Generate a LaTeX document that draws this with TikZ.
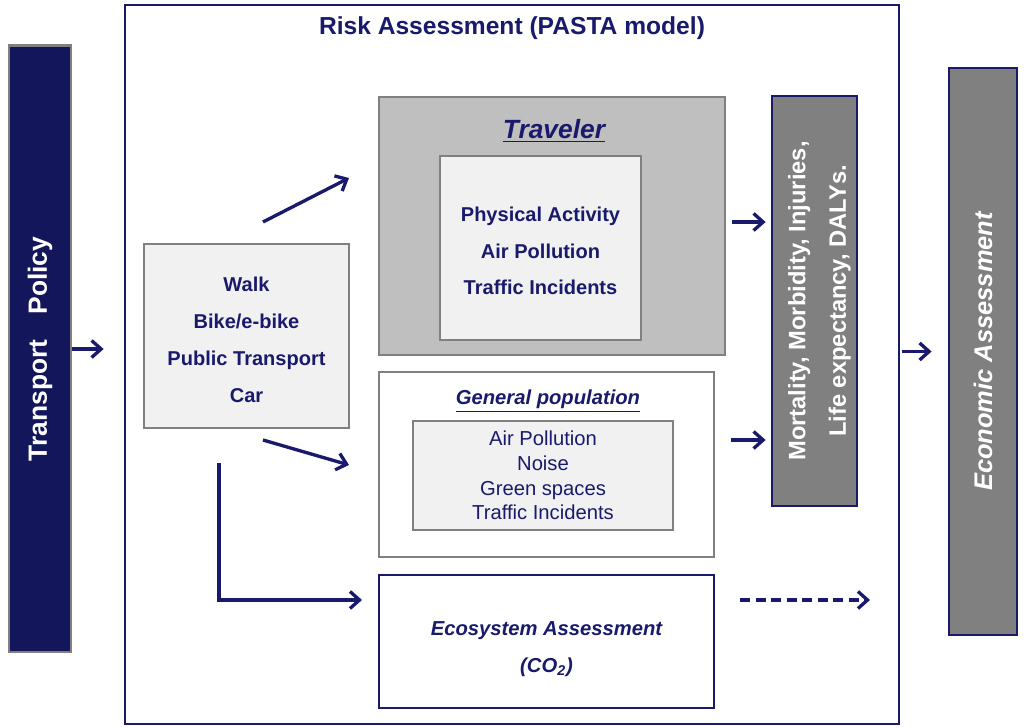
\documentclass[tikz,border=0pt]{standalone}
\usepackage{fontspec}
\setmainfont{Liberation Sans}
\usetikzlibrary{arrows.meta,positioning,calc}

\definecolor{navy}{HTML}{1A1A6C}
\definecolor{deepnavy}{HTML}{13165A}
\definecolor{midgray}{HTML}{808080}
\definecolor{shadegray}{HTML}{BFBFBF}
\definecolor{palegray}{HTML}{F1F1F1}

\begin{document}
\begin{tikzpicture}[
  >={Straight Barb[length=1.9mm, width=3.4mm]},
  every node/.style={text=navy, inner sep=0pt},
  arr/.style={->, line width=1.9pt, draw=navy},
  box/.style={draw=midgray, line width=1.6pt, align=center},
  column/.style={draw=navy, line width=1.6pt, fill=midgray, rotate=90,
                 text=white, align=center},
  body/.style={font=\fontsize{11.4}{21}\selectfont\bfseries},
]
  \fill[white] (0,0) rectangle (20.48,-14.56);
  \useasboundingbox (0,0) rectangle (20.48,-14.56);

  \node[draw=midgray, line width=1.7pt, fill=deepnavy, rotate=90,
        minimum width=12.12cm, minimum height=1.24cm, text=white,
        font=\fontsize{15}{18}\selectfont\bfseries]
    (policy) at (0.80, -6.98) {Transport\hspace{5mm}Policy};

  \node[draw=navy, line width=1.6pt, minimum width=15.48cm,
        minimum height=14.38cm] (frame) at (10.24, -7.29) {};
  \node[font=\fontsize{14}{16}\selectfont\bfseries] (title)
    at (10.24, -0.56) {Risk Assessment (PASTA model)};

  \node[box, body, fill=palegray, minimum width=4.10cm,
        minimum height=3.68cm] (modes) at (4.93, -6.72)
    {\rule{0pt}{13pt}Walk\\Bike/e-bike\\Public Transport\\Car};

  % Traveler
  \node[box, fill=shadegray, minimum width=6.92cm,
        minimum height=5.16cm] (trav) at (11.04, -4.52) {};
  \node[font=\fontsize{15}{18}\selectfont\bfseries\itshape]
    (travtitle) at (11.08, -2.62) {\underline{Traveler}};
  \node[box, body, fill=palegray, minimum width=4.02cm,
        minimum height=3.68cm] (travin) at (10.81, -4.96)
    {\rule{0pt}{11.5pt}Physical Activity\\Air Pollution\\Traffic Incidents};

  % General population
  \node[box, fill=white, minimum width=6.70cm,
        minimum height=3.70cm] (pop) at (10.93, -9.29) {};
  \node[font=\fontsize{11.5}{14}\selectfont\bfseries\itshape]
    (poptitle) at (10.96, -8.02) {\underline{General population}};
  \node[box, fill=palegray, minimum width=5.20cm, minimum height=2.18cm,
        font=\fontsize{11.5}{14}\selectfont] (popin) at (10.86, -9.51)
    {Air Pollution\\Noise\\Green spaces\\Traffic Incidents};

  \node[draw=navy, line width=1.6pt, fill=white, align=center,
        minimum width=6.70cm, minimum height=2.66cm,
        font=\fontsize{11.5}{21.5}\selectfont\bfseries\itshape]
    (eco) at (10.93, -12.83)
    {\rule{0pt}{16.5pt}Ecosystem Assessment\\(CO\textsubscript{2})};

  \node[column, minimum width=8.20cm, minimum height=1.70cm,
        font=\fontsize{13.5}{23}\selectfont\bfseries] (mort) at (16.29, -6.02)
    {\rule{0pt}{15.5pt}Mortality, Morbidity, Injuries,\\Life expectancy, DALYs.};

  \node[column, minimum width=11.34cm, minimum height=1.36cm,
        font=\fontsize{14.5}{17}\selectfont\bfseries\itshape]
    (econ) at (19.66, -7.03) {Economic Assessment};

  % arrow ends
  \coordinate (travFrom) at (5.26, -4.44);
  \coordinate (travTo)   at (6.98, -3.56);
  \coordinate (popFrom)  at (5.26, -8.80);
  \coordinate (popTo)    at (6.98, -9.30);
  \coordinate (ecoFrom)  at (4.38, -9.26);
  \coordinate (ecoTo)    at (7.24, -12.00);
  \coordinate (mortA)    at (14.62, -4.44);
  \coordinate (mortB)    at (14.62, -8.80);
  \coordinate (dashFrom) at (14.80, -12.00);
  \coordinate (dashTo)   at (17.40, -12.00);

  \draw[arr, shorten >=0.4cm] (policy.south) -- (policy.south -| frame.west);
  \draw[arr] (travFrom) -- (travTo);
  \draw[arr] (popFrom) -- (popTo);
  \draw[arr] (ecoFrom) |- (ecoTo);
  \draw[arr, shorten <=0.02cm, shorten >=0.1cm] (mortA) -- (mortA -| mort.north);
  \draw[arr, shorten >=0.1cm] (mortB) -- (mortB -| mort.north);
  \draw[arr, shorten <=0.04cm, shorten >=0.32cm] (frame.east |- econ.north)
    -- (econ.north);
  \draw[arr, dash pattern=on 2mm off 1.1mm] (dashFrom) -- (dashTo);
\end{tikzpicture}
\end{document}
